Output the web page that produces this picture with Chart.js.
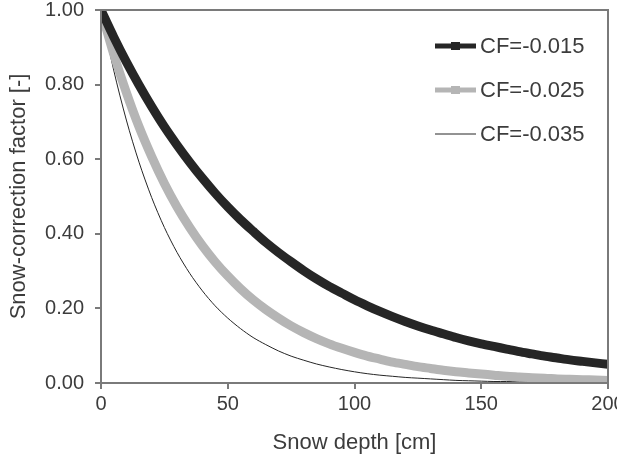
<!DOCTYPE html>
<html>
<head>
<meta charset="utf-8">
<script src="https://cdn.jsdelivr.net/npm/chart.js@4"></script>
<style>
  html, body { margin: 0; padding: 0; background: #fff; overflow: hidden; }
  #wrap { width: 617px; height: 457px; }
</style>
</head>
<body>
<div id="wrap"><canvas id="snowChart" width="617" height="457"></canvas></div>
<script>
    // snow depth [cm]
    var depth = [0, 5, 10, 15, 20, 25, 30, 35, 40, 45, 50, 55, 60, 65, 70, 75, 80, 85, 90, 95, 100,
                 105, 110, 115, 120, 125, 130, 135, 140, 145, 150, 155, 160, 165, 170, 175, 180, 185, 190, 195, 200];

    // snow-correction factor
    var cf015 = [1.000, 0.928, 0.861, 0.799, 0.741, 0.687, 0.638, 0.592, 0.549, 0.509, 0.472,
                 0.438, 0.407, 0.377, 0.350, 0.325, 0.301, 0.279, 0.259, 0.241, 0.223,
                 0.207, 0.192, 0.178, 0.165, 0.153, 0.142, 0.132, 0.122, 0.113, 0.105,
                 0.098, 0.091, 0.084, 0.078, 0.072, 0.067, 0.062, 0.058, 0.054, 0.050];
    var cf025 = [1.000, 0.882, 0.779, 0.687, 0.607, 0.535, 0.472, 0.417, 0.368, 0.325, 0.287,
                 0.253, 0.223, 0.197, 0.174, 0.153, 0.135, 0.119, 0.105, 0.093, 0.082,
                 0.072, 0.064, 0.056, 0.050, 0.044, 0.039, 0.034, 0.030, 0.027, 0.024,
                 0.021, 0.018, 0.016, 0.014, 0.013, 0.011, 0.010, 0.009, 0.008, 0.007];
    var cf035 = [1.000, 0.839, 0.705, 0.592, 0.497, 0.417, 0.350, 0.294, 0.247, 0.207, 0.174,
                 0.146, 0.122, 0.103, 0.086, 0.072, 0.061, 0.051, 0.043, 0.036, 0.030,
                 0.025, 0.021, 0.018, 0.015, 0.013, 0.011, 0.009, 0.007, 0.006, 0.005,
                 0.004, 0.004, 0.003, 0.003, 0.002, 0.002, 0.002, 0.001, 0.001, 0.001];

    var seriesLabels = ['CF=-0.015', 'CF=-0.025', 'CF=-0.035'];
    var xTicks = [0, 50, 100, 150, 200];
    var yTicks = [0, 0.2, 0.4, 0.6, 0.8, 1.0];

    function pts(ys) {
        return depth.map(function (d, i) { return { x: d, y: ys[i] }; });
    }

    var axisColor = '#7a7a7a';
    var textColor = '#3c3c3c';
    var fontFamily = '"Liberation Sans", Arial, sans-serif';

    // frame round the plot area + legend drawn inside it
    var framePlugin = {
        id: 'frameLegend',
        afterDraw: function (chart) {
            var ctx = chart.ctx;
            var a = chart.chartArea;
            ctx.save();
            ctx.strokeStyle = axisColor;
            ctx.lineWidth = 2;
            ctx.strokeRect(a.left, a.top, a.right - a.left, a.bottom - a.top);

            var rows = [46, 90, 134];
            chart.data.datasets.forEach(function (ds, i) {
                var y = rows[i];
                ctx.strokeStyle = ds.borderColor;
                ctx.lineWidth = ds.borderWidth > 2 ? 5 : 1;
                ctx.beginPath();
                ctx.moveTo(435, y);
                ctx.lineTo(476, y);
                ctx.stroke();
                if (ds.borderWidth > 2) {
                    ctx.fillStyle = ds.borderColor;
                    ctx.fillRect(451, y - 4, 9, 8);
                }
                ctx.fillStyle = textColor;
                ctx.font = '22px ' + fontFamily;
                ctx.textAlign = 'left';
                ctx.textBaseline = 'middle';
                ctx.fillText(ds.label, 480, y + 1);
            });
            ctx.restore();
        }
    };

    var ctx = document.getElementById('snowChart').getContext('2d');
    var myChart = new Chart(ctx, {
        type: 'line',
        data: {
            datasets: [{
                label: seriesLabels[0],
                data: pts(cf015),
                borderColor: '#262626',
                borderWidth: 9,
                pointRadius: 0,
                tension: 0.3
            }, {
                label: seriesLabels[1],
                data: pts(cf025),
                borderColor: '#b5b5b5',
                borderWidth: 9,
                pointRadius: 0,
                tension: 0.3
            }, {
                label: seriesLabels[2],
                data: pts(cf035),
                borderColor: '#262626',
                borderWidth: 1,
                pointRadius: 0,
                tension: 0.3
            }]
        },
        options: {
            responsive: false,
            animation: false,
            layout: { padding: { top: 10, right: 9, left: 0, bottom: 0 } },
            plugins: {
                legend: { display: false },
                tooltip: { enabled: false }
            },
            scales: {
                x: {
                    type: 'linear',
                    min: 0,
                    max: 200,
                    afterBuildTicks: function (s) { s.ticks = xTicks.map(function (v) { return { value: v }; }); },
                    afterFit: function (s) { s.height = 74; s.paddingLeft = 0; s.paddingRight = 0; },
                    grid: { drawOnChartArea: false, color: axisColor, lineWidth: 2, tickLength: 6 },
                    border: { color: axisColor, width: 2 },
                    ticks: { color: textColor, font: { family: fontFamily, size: 20 }, padding: 3, maxRotation: 0, autoSkip: false },
                    title: { display: true, text: 'Snow depth [cm]', color: textColor, font: { family: fontFamily, size: 22 }, padding: { top: 0, bottom: 1 } }
                },
                y: {
                    min: 0,
                    max: 1,
                    afterBuildTicks: function (s) { s.ticks = yTicks.map(function (v) { return { value: v }; }); },
                    afterFit: function (s) { s.width = 101; s.paddingTop = 0; s.paddingBottom = 0; },
                    grid: { drawOnChartArea: false, color: axisColor, lineWidth: 2, tickLength: 6 },
                    border: { color: axisColor, width: 2 },
                    ticks: {
                        color: textColor,
                        font: { family: fontFamily, size: 20 },
                        padding: 11,
                        callback: function (v) { return Number(v).toFixed(2); }
                    },
                    title: { display: true, text: 'Snow-correction factor [-]', color: textColor, font: { family: fontFamily, size: 22 }, padding: { top: 6, bottom: 4 } }
                }
            }
        },
        plugins: [framePlugin]
    });
</script>
</body>
</html>
